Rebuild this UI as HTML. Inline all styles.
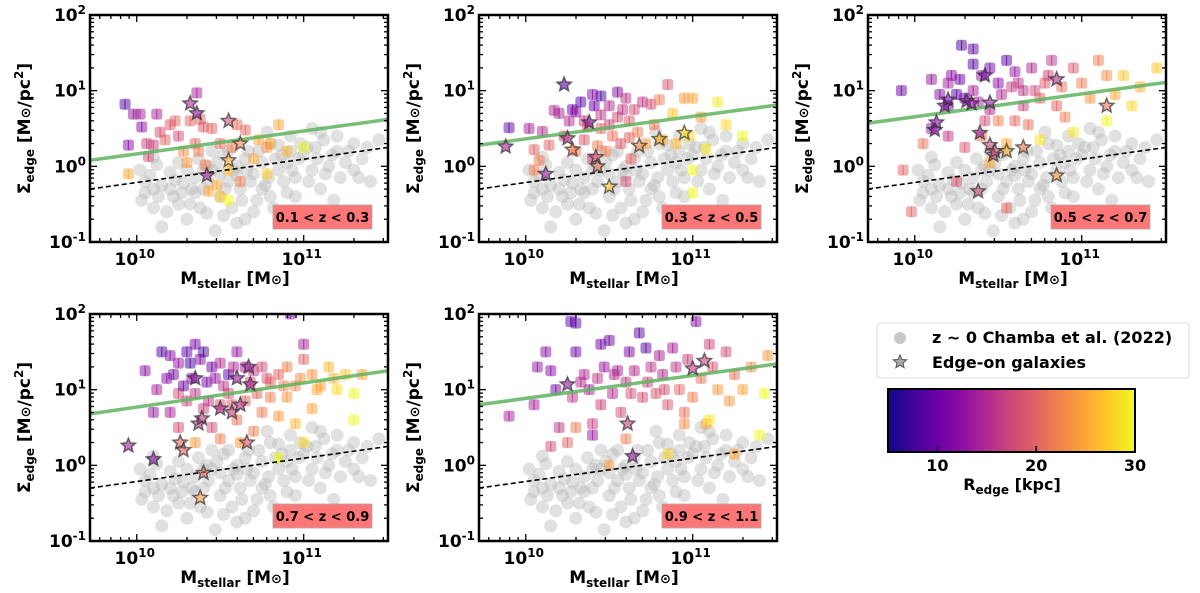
<!DOCTYPE html>
<html><head><meta charset="utf-8"><style>
html,body{margin:0;padding:0;background:#fff;}
svg text{font-family:"DejaVu Sans","Liberation Sans",sans-serif;font-weight:bold;fill:#000;}
</style></head><body>
<svg id="fig" width="1200" height="588" viewBox="0 0 1200 588" xmlns="http://www.w3.org/2000/svg">
<defs>
<linearGradient id="plasma" x1="0" x2="1" y1="0" y2="0">
<stop offset="0" stop-color="#0d0887"/><stop offset="0.1" stop-color="#41049d"/><stop offset="0.2" stop-color="#6a00a8"/><stop offset="0.3" stop-color="#8f0da4"/><stop offset="0.4" stop-color="#b12a90"/><stop offset="0.5" stop-color="#cc4778"/><stop offset="0.6" stop-color="#e16462"/><stop offset="0.7" stop-color="#f2844b"/><stop offset="0.8" stop-color="#fca636"/><stop offset="0.9" stop-color="#fcce25"/><stop offset="1" stop-color="#f0f921"/>
</linearGradient>
</defs>
</svg>
<script>
// ---- data (log10 Mstellar, log10 Sigma_edge, R_edge kpc) ----
const zLabels = ["0.1 < z < 0.3","0.3 < z < 0.5","0.5 < z < 0.7","0.7 < z < 0.9","0.9 < z < 1.1"];
const greenStart = [0.08,0.28,0.57,0.68,0.80];
const greenEnd = [0.62,0.81,1.11,1.25,1.34];
const dashedStart = -0.30;
const dashedEnd = 0.25;
const xTickExps = [10,11];
const yTickExps = [-1,0,1,2];
const cbTicks = [10,20,30];
const grayPts = [[10.02,-0.05],[10.05,-0.35],[10.08,-0.12],[10.1,-0.55],[10.12,0.02],[10.15,-0.25],[10.18,-0.6],[10.2,-0.08],[10.22,-0.4],[10.25,0.05],[10.28,-0.22],[10.3,-0.7],[10.32,-0.5],[10.35,-0.15],[10.37,0.1],[10.4,-0.3],[10.42,-0.62],[10.45,-0.05],[10.47,-0.85],[10.5,-0.4],[10.52,0.15],[10.55,-0.2],[10.57,-0.55],[10.6,0.0],[10.62,-0.3],[10.65,-0.7],[10.67,0.2],[10.7,-0.1],[10.72,-0.45],[10.75,0.05],[10.77,-0.25],[10.8,0.3],[10.82,-0.55],[10.85,-0.05],[10.87,0.15],[10.9,-0.35],[10.92,0.4],[10.95,-0.15],[10.97,0.1],[11.0,-0.6],[11.02,0.25],[11.05,-0.05],[11.08,0.1],[11.1,-0.3],[11.12,0.35],[11.15,0.0],[11.2,0.2],[11.22,-0.15],[11.25,0.05],[11.3,0.3],[11.35,0.1],[11.4,-0.2],[11.45,0.35],[10.1,0.12],[10.35,-0.35],[10.6,-0.12],[10.85,0.28],[11.05,0.5],[10.45,0.2],[10.7,-0.6],[10.25,-0.5],[10.55,0.2],[11.3,-0.05],[10.78,0.45],[10.15,-0.8],[10.4,-0.05],[10.95,-0.4],[11.18,-0.45],[10.05,-0.2],[10.3,-0.05],[10.5,-0.1],[10.65,0.1],[10.9,0.05],[11.0,0.15],[10.2,-0.3],[10.75,-0.3],[10.03,-0.45],[10.13,-0.4],[10.23,-0.18],[10.33,-0.3],[10.38,-0.55],[10.43,-0.2],[10.48,0.05],[10.53,-0.3],[10.58,-0.05],[10.63,-0.45],[10.68,-0.2],[10.73,0.2],[10.79,-0.15],[10.83,0.1],[10.88,-0.2],[10.93,-0.05],[10.98,0.3],[11.03,-0.2],[11.07,0.25],[11.13,-0.1],[11.17,0.15],[11.27,0.2],[11.33,-0.15],[11.38,0.25],[10.27,-0.35],[10.52,-0.65],[10.6,-0.75],[10.8,-0.4],[11.1,0.45],[10.1,-0.3],[10.42,0.0],[10.66,-0.05],[10.92,0.2],[11.2,0.4]];
const pts1 = [[9.93,0.82,8],[9.95,0.28,12],[9.98,0.69,13],[10.02,0.69,14],[10.03,0.52,12],[10.06,0.3,17],[10.07,0.13,18],[10.1,0.28,17],[10.12,0.69,14],[10.14,0.45,18],[10.17,0.35,20],[10.2,0.55,19],[10.23,0.6,20],[10.25,0.4,18],[10.28,0.2,23],[10.3,0.05,24],[10.32,0.6,20],[10.35,0.3,20],[10.36,0.97,14],[10.37,0.2,22],[10.38,0.62,20],[10.4,0.52,19],[10.41,0.02,22],[10.43,-0.33,25],[10.45,0.5,20],[10.48,-0.25,25],[10.5,0.3,20],[10.5,-0.4,27],[10.55,-0.05,26],[10.57,0.25,22],[10.6,0.55,21],[10.62,-0.2,22],[10.65,0.48,20],[10.7,0.1,25],[10.73,0.35,25],[10.78,-0.1,27],[10.8,0.3,26],[9.95,-0.1,25],[10.55,-0.45,30],[10.78,0.25,23],[10.9,0.2,26],[10.85,0.55,25],[11.0,0.25,30]];
const stars1 = [[10.32,0.83,15],[10.36,0.7,12],[10.55,0.6,18],[10.62,0.3,22],[10.55,0.08,25],[10.42,-0.12,14]];
const pts2 = [[9.9,0.51,9],[10.02,0.5,14],[10.1,0.46,15],[10.05,0.22,20],[10.08,0.08,22],[10.14,0.28,20],[10.17,0.74,15],[10.2,0.7,14],[10.23,0.4,17],[10.26,0.6,15],[10.28,0.75,10],[10.3,0.72,12],[10.33,0.85,9],[10.35,0.6,16],[10.37,0.52,18],[10.4,0.95,12],[10.41,0.8,10],[10.43,0.27,22],[10.45,0.93,8],[10.45,0.5,20],[10.48,0.2,22],[10.5,0.8,15],[10.52,0.4,21],[10.55,0.98,12],[10.55,0.65,18],[10.57,0.3,19],[10.6,0.9,16],[10.62,0.6,19],[10.63,0.1,20],[10.65,0.75,18],[10.67,0.45,22],[10.7,0.85,16],[10.72,0.3,24],[10.75,0.82,18],[10.77,0.55,21],[10.8,0.88,22],[10.82,0.35,25],[10.85,1.08,19],[10.88,0.7,27],[10.9,0.3,26],[10.95,0.9,24],[10.98,0.4,28],[11.0,-0.05,30],[11.0,0.9,25],[11.05,0.65,24],[11.08,0.23,29],[11.15,0.85,29],[11.2,0.55,28],[11.3,0.4,30],[11.0,-0.35,30],[10.6,-0.2,18],[10.4,0.1,17],[10.05,-0.05,22],[10.5,0.55,17],[10.58,0.75,16],[10.62,0.38,20],[10.35,0.35,19],[10.3,0.2,21],[10.45,0.68,16]];
const stars2 = [[9.88,0.26,14],[10.12,-0.1,13],[10.23,1.08,9],[10.25,0.37,16],[10.28,0.22,22],[10.38,0.58,12],[10.42,0.12,19],[10.43,0.0,22],[10.5,-0.27,27],[10.68,0.27,23],[10.8,0.36,26],[10.95,0.44,28]];
const pts3 = [[9.92,1.0,10],[10.28,1.6,8],[10.35,1.55,9],[10.35,1.35,8],[10.22,1.2,12],[10.27,1.15,10],[10.1,1.15,13],[10.2,1.1,14],[10.25,0.95,9],[10.3,0.9,10],[10.35,1.0,14],[10.4,1.2,13],[10.45,1.3,11],[10.5,1.1,12],[10.55,1.4,9],[10.6,1.25,13],[10.62,1.1,16],[10.65,0.8,17],[10.7,1.3,15],[10.72,1.0,18],[10.75,0.9,20],[10.8,1.2,17],[10.82,1.4,16],[10.85,0.8,20],[10.88,1.05,21],[10.9,0.65,22],[10.95,1.3,19],[11.0,1.1,22],[11.05,0.9,24],[11.1,1.4,22],[11.15,1.2,23],[11.2,0.95,25],[11.25,1.2,27],[11.3,0.8,28],[11.35,1.05,26],[11.45,1.3,27],[11.15,0.6,30],[10.95,0.45,29],[10.75,0.35,29],[10.55,0.3,25],[10.4,0.4,22],[10.3,0.25,19],[10.2,0.4,16],[10.1,0.5,13],[10.05,0.3,21],[9.93,-0.05,20],[9.98,-0.6,20],[10.25,-0.2,19],[10.55,-0.55,20],[10.45,0.05,25],[10.6,0.6,20],[10.5,0.6,22],[10.2,0.8,11],[10.45,0.75,15],[10.68,0.55,21],[10.15,0.95,12],[10.38,0.85,14],[10.52,0.95,15],[10.58,1.05,17],[10.78,1.1,19],[10.42,0.6,18],[10.65,1.0,16]];
const stars3 = [[10.12,0.48,12],[10.13,0.58,12],[10.18,0.8,12],[10.2,0.88,11],[10.31,0.86,12],[10.34,0.83,12],[10.39,0.44,13],[10.42,1.2,10],[10.45,0.84,13],[10.45,0.28,18],[10.47,0.15,17],[10.48,0.2,18],[10.55,0.2,26],[10.65,0.25,22],[10.38,-0.33,18],[10.85,1.15,15],[10.85,-0.12,24],[11.15,0.8,21]];
const pts4 = [[10.15,1.5,8],[10.2,1.45,12],[10.25,1.35,13],[10.3,1.5,9],[10.35,1.6,11],[10.32,1.35,8],[10.38,1.4,12],[10.4,1.5,8],[10.45,1.3,10],[10.5,1.35,15],[10.55,1.2,9],[10.6,1.5,13],[10.65,1.3,14],[10.7,1.25,16],[10.75,1.3,18],[10.8,1.1,20],[10.85,1.2,20],[10.9,1.3,22],[10.95,1.05,23],[11.0,1.4,20],[11.05,1.2,24],[11.1,1.05,25],[11.15,1.3,26],[11.2,1.0,28],[11.25,1.2,27],[11.3,0.95,30],[11.35,1.2,25],[11.3,0.6,30],[10.2,0.7,14],[10.25,0.95,18],[10.3,0.85,17],[10.35,0.95,16],[10.4,0.75,17],[10.45,0.5,18],[10.5,0.8,19],[10.55,0.95,18],[10.6,0.6,21],[10.65,0.85,20],[10.7,0.45,22],[10.75,0.7,22],[10.8,0.9,22],[10.85,0.65,24],[10.9,0.9,24],[10.95,0.55,26],[11.0,0.3,28],[10.1,0.7,13],[10.12,1.0,14],[10.18,1.15,12],[10.05,1.25,12],[10.25,0.5,18],[10.35,0.3,24],[10.5,0.35,22],[10.62,0.3,24],[10.85,0.1,30],[11.05,0.75,25],[10.92,2.0,12],[11.0,1.6,14],[10.28,1.05,10],[10.42,1.1,11],[10.22,1.2,11],[10.33,1.15,12],[10.47,1.15,13],[10.52,1.05,16],[10.58,1.3,15],[10.68,1.1,18],[10.72,0.95,20],[10.78,1.15,19],[10.88,1.05,22],[10.98,1.15,23],[11.08,1.0,25],[11.18,1.15,26],[10.43,0.85,16],[10.57,0.8,19]];
const stars4 = [[9.95,0.26,14],[10.1,0.08,12],[10.26,0.3,20],[10.28,0.2,20],[10.35,1.15,12],[10.37,0.55,16],[10.39,0.62,16],[10.4,-0.1,20],[10.38,-0.43,24],[10.5,0.75,15],[10.57,0.7,17],[10.6,1.15,13],[10.62,0.8,15],[10.67,1.3,14],[10.68,1.07,14],[10.66,0.3,19]];
const pts5 = [[9.9,0.65,14],[10.05,0.8,14],[10.07,1.3,13],[10.12,1.5,12],[10.15,1.25,12],[10.18,1.0,11],[10.2,0.5,16],[10.25,0.3,20],[10.27,1.9,9],[10.3,1.88,9],[10.3,1.5,10],[10.35,1.2,15],[10.38,1.0,14],[10.4,0.4,13],[10.4,0.55,17],[10.45,1.6,10],[10.47,1.3,13],[10.5,1.65,10],[10.52,0.95,15],[10.55,1.25,14],[10.57,0.7,18],[10.6,1.1,16],[10.62,1.5,11],[10.65,1.25,15],[10.68,1.75,9],[10.7,0.9,18],[10.72,1.55,9],[10.75,1.3,16],[10.78,0.95,19],[10.8,1.45,14],[10.82,1.2,15],[10.85,0.8,19],[10.88,1.55,14],[10.9,1.3,16],[10.92,1.0,20],[10.95,0.7,21],[10.97,1.4,17],[11.0,0.9,22],[11.02,1.9,12],[11.05,1.15,21],[11.08,0.55,25],[11.1,1.6,17],[11.12,1.3,19],[11.15,1.0,24],[11.2,1.5,18],[11.22,0.85,24],[11.25,1.2,21],[11.3,1.0,25],[11.35,1.3,23],[11.4,0.4,30],[11.45,1.45,24],[11.43,0.95,30],[11.1,0.6,29],[10.95,0.55,23],[10.5,0.0,24],[10.3,0.5,22],[10.15,0.25,18],[10.6,0.35,22],[10.85,0.15,28],[11.25,0.15,25],[10.33,1.1,15],[10.43,1.15,16],[10.53,1.2,15],[10.63,0.95,18],[10.73,1.1,17],[10.83,1.0,18],[10.45,0.8,17],[10.28,0.9,16]];
const stars5 = [[10.25,1.07,13],[10.61,0.55,17],[10.64,0.12,13],[11.0,1.28,16],[11.07,1.38,17]];
const allPts = [pts1,pts2,pts3,pts4,pts5];
const allStars = [stars1,stars2,stars3,stars4,stars5];

// ---- layout ----
const NS="http://www.w3.org/2000/svg";
const svg=document.getElementById('fig');
const panelPos=[[90,15],[479,15],[868,15],[90,314],[479,314]];
const PW=298, PH=227;
const XMIN=9.72, XMAX=11.505, YMIN=-1, YMAX=2;
const stops=[[13,8,135],[65,4,157],[106,0,168],[143,13,164],[177,42,144],[204,71,120],[225,100,98],[242,132,75],[252,166,54],[252,206,37],[240,249,33]];
function cmap(r){let t=Math.max(0,Math.min(1,(r-5)/25))*10;let i=Math.min(9,Math.floor(t));let f=t-i;let a=stops[i],b=stops[i+1];
return `rgb(${Math.round(a[0]+(b[0]-a[0])*f)},${Math.round(a[1]+(b[1]-a[1])*f)},${Math.round(a[2]+(b[2]-a[2])*f)})`;}
function mk(tag,attrs,parent){const e=document.createElementNS(NS,tag);for(const k in attrs)e.setAttribute(k,attrs[k]);(parent||svg).appendChild(e);return e;}
function starPath(cx,cy,R){let r=R*0.45,d='';for(let i=0;i<10;i++){const a=-Math.PI/2+i*Math.PI/5;const rr=i%2?r:R;d+=(i?'L':'M')+(cx+rr*Math.cos(a)).toFixed(1)+','+(cy+rr*Math.sin(a)).toFixed(1);}return d+'Z';}

panelPos.forEach((pp,pi)=>{
  const [L,T]=pp;
  const xs=v=>L+(v-XMIN)/(XMAX-XMIN)*PW;
  const ys=v=>T+(YMAX-v)/(YMAX-YMIN)*PH;
  const g=mk('g',{});
  
  
  const clipId='clip'+pi;
  const cp=mk('clipPath',{id:clipId},g);mk('rect',{x:L,y:T,width:PW,height:PH},cp);
  const plot=mk('g',{'clip-path':`url(#${clipId})`},g);
  grayPts.forEach(p=>{
    const c=mk('circle',{cx:xs(p[0]),cy:ys(p[1]),r:6.5,fill:'#b4b4b4','fill-opacity':0.4},plot);
    
    
  });
  allPts[pi].forEach(p=>{
    const col=cmap(p[2]);
    const r=mk('rect',{x:xs(p[0])-5.5,y:ys(p[1])-5.5,width:11,height:11,rx:2.5,fill:col,'fill-opacity':0.5},plot);
    
    
    mk('line',{x1:xs(p[0]),x2:xs(p[0]),y1:ys(p[1])-5,y2:ys(p[1])+5,stroke:col,'stroke-opacity':0.7,'stroke-width':1.2},plot);
  });
  const gl=mk('line',{x1:xs(XMIN),y1:ys(greenStart[pi]),x2:xs(XMAX),y2:ys(greenEnd[pi]),stroke:'#5fb35f','stroke-opacity':0.85,'stroke-width':3.5},plot);
  
  
  const dl=mk('line',{x1:xs(XMIN),y1:ys(dashedStart),x2:xs(XMAX),y2:ys(dashedEnd),stroke:'#000','stroke-width':1.6,'stroke-dasharray':'5,3'},plot);
  
  
  allStars[pi].forEach(p=>{
    const s=mk('path',{d:starPath(xs(p[0]),ys(p[1]),7.5),fill:cmap(p[2]),'fill-opacity':0.6,stroke:'#333','stroke-opacity':0.7,'stroke-width':1.5},plot);
    
    
  });
  for(let e=9;e<=11;e++)for(let m=1;m<10;m++){const v=e+Math.log10(m);if(v<XMIN||v>XMAX)continue;const len=m==1?7:4;const x=xs(v);
    mk('line',{x1:x,x2:x,y1:T+PH,y2:T+PH-len,stroke:'#000','stroke-width':1.3},g);
    mk('line',{x1:x,x2:x,y1:T,y2:T+len,stroke:'#000','stroke-width':1.3},g);}
  for(let e=-1;e<=2;e++)for(let m=1;m<10;m++){const v=e+Math.log10(m);if(v>YMAX)continue;const len=m==1?7:4;const y=ys(v);
    mk('line',{x1:L,x2:L+len,y1:y,y2:y,stroke:'#000','stroke-width':1.3},g);
    mk('line',{x1:L+PW,x2:L+PW-len,y1:y,y2:y,stroke:'#000','stroke-width':1.3},g);}
  const fr=mk('rect',{x:L,y:T,width:PW,height:PH,fill:'none',stroke:'#000','stroke-width':2.5},g);
  
  
  xTickExps.forEach(e=>{const t=mk('text',{x:xs(e)-2,y:T+PH+23,'font-size':17,'text-anchor':'middle'},g);
    
    
    t.innerHTML=`10<tspan dy="-7" font-size="12">${e}</tspan>`;});
  yTickExps.forEach(e=>{const t=mk('text',{x:L-4,y:ys(e)+6,'font-size':17,'text-anchor':'end'},g);
    
    
    t.innerHTML=`10<tspan dy="-7" font-size="12">${e}</tspan>`;});
  const xt=mk('text',{x:L+PW/2-4,y:T+PH+42,'font-size':17,'text-anchor':'middle'},g);
  
  
  xt.innerHTML='M<tspan dy="4" font-size="12">stellar</tspan><tspan dy="-4"> [M</tspan><tspan font-size="13">⊙</tspan>]';
  const yt=mk('text',{transform:`translate(${L-60},${T+PH/2}) rotate(-90)`,'font-size':17,'text-anchor':'middle'},g);
  
  
  yt.innerHTML='Σ<tspan dy="4" font-size="12">edge</tspan><tspan dy="-4"> [M</tspan><tspan font-size="13">⊙</tspan>/pc<tspan dy="-7" font-size="12">2</tspan><tspan dy="7">]</tspan>';
  const bx=mk('rect',{x:L+183,y:T+190,width:99,height:24,fill:'#ff7676',stroke:'#aaa','stroke-width':0.8},g);
  
  
  const bt=mk('text',{x:L+232.5,y:T+207,'font-size':13,'text-anchor':'middle'},g);
  
  
  bt.textContent=zLabels[pi];
});

const lg=mk('g',{});


mk('rect',{x:877,y:323,width:312,height:55,rx:3,fill:'#fff',stroke:'#ddd','stroke-width':1},lg);
const lc=mk('circle',{cx:900,cy:338,r:6,fill:'#c8c8c8'},lg);


const t1=mk('text',{x:932,y:343,'font-size':16},lg);t1.textContent='z ~ 0 Chamba et al. (2022)';
mk('path',{d:starPath(900,362,7),fill:'#aaa',stroke:'#555','stroke-width':1},lg);
const t2=mk('text',{x:932,y:368,'font-size':16},lg);t2.textContent='Edge-on galaxies';



const cb=mk('g',{});


const CB0=888, CB1=1135;
mk('rect',{x:CB0,y:389,width:CB1-CB0,height:63,fill:'url(#plasma)',stroke:'#000','stroke-width':2},cb);
cbTicks.forEach(v=>{const x=CB0+(v-5)/25*(CB1-CB0);
  mk('line',{x1:x,x2:x,y1:452,y2:446,stroke:'#000','stroke-width':1.5},cb);
  const t=mk('text',{x:x,y:471,'font-size':16,'text-anchor':'middle'},cb);
  
  
  t.textContent=v;});
const ct=mk('text',{x:1012,y:490,'font-size':16,'text-anchor':'middle'},cb);


ct.innerHTML='R<tspan dy="4" font-size="12">edge</tspan><tspan dy="-4"> [kpc]</tspan>';
</script>
</body></html>
